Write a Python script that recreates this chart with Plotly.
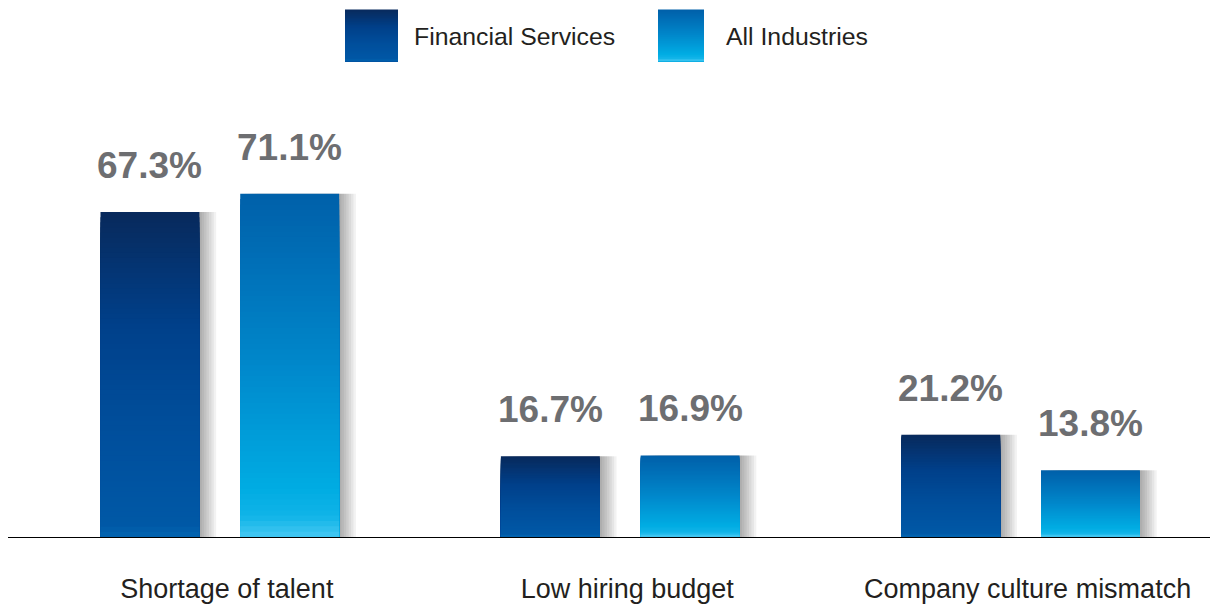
import plotly.graph_objects as go

# ---------------- data ----------------
categories = ["Shortage of talent", "Low hiring budget", "Company culture mismatch"]
financial_services = [67.3, 16.7, 21.2]
all_industries = [71.1, 16.9, 13.8]
series_names = ["Financial Services", "All Industries"]

# ---------------- styling ----------------
BODY = 8  # default page body margin
W, H = 1218 - BODY, 604 - BODY
ML, MR, MT, MB = 0, 0, 92, 65
X_RANGE = [-0.529, 2.493]
Y_MAX = (H - MT - MB) / 4.85
PLOT_W = W - ML - MR
PLOT_H = H - MT - MB
PX_PER_UNIT = PLOT_W / (X_RANGE[1] - X_RANGE[0])

BAR_W = 0.247
OFFSETS = [-0.298, 0.051]

FS_SCALE = [(0.0, "#0264b0"), (0.04, "#0058a6"), (0.35, "#004e9b"),
            (0.65, "#00408a"), (1.0, "#082a5c")]
AI_SCALE = [(0.0, "#45c8f2"), (0.06, "#10b4e8"), (0.14, "#00ace3"),
            (0.5, "#0088cb"), (0.8, "#006fb7"), (1.0, "#0060a9")]
SCALES = [FS_SCALE, AI_SCALE]
LABEL_COLOR = "#6d6e71"
TEXT_COLOR = "#231f20"
FONT = "Liberation Sans, Arial, sans-serif"
N_LAYERS = 64


def hex2rgb(h):
    h = h.lstrip("#")
    return tuple(int(h[i:i + 2], 16) for i in (0, 2, 4))


def sample(scale, t):
    for (t0, c0), (t1, c1) in zip(scale[:-1], scale[1:]):
        if t0 <= t <= t1:
            a = (t - t0) / (t1 - t0) if t1 > t0 else 0
            r0, g0, b0 = hex2rgb(c0)
            r1, g1, b1 = hex2rgb(c1)
            return "rgb(%d,%d,%d)" % (round(r0 + (r1 - r0) * a),
                                      round(g0 + (g1 - g0) * a),
                                      round(b0 + (b1 - b0) * a))
    return scale[-1][1]


fig = go.Figure()
series_values = [financial_services, all_industries]

# soft shadows
for s, vals in enumerate(series_values):
    for k in range(1, 8):
        fig.add_trace(go.Bar(
            x=categories, y=vals, width=BAR_W,
            offset=OFFSETS[s] + k * 2.4 / PX_PER_UNIT,
            marker=dict(color="rgba(0,0,0,0.05)", line=dict(width=0)),
            showlegend=False, hoverinfo="skip"))

# gradient bars (layers drawn tallest first)
for s, vals in enumerate(series_values):
    for j in range(N_LAYERS):
        frac = (N_LAYERS - j) / N_LAYERS
        fig.add_trace(go.Bar(
            x=categories, y=[v * frac for v in vals], width=BAR_W,
            offset=OFFSETS[s],
            marker=dict(color=sample(SCALES[s], (N_LAYERS - j - 0.5) / N_LAYERS),
                        line=dict(width=0)),
            name=series_names[s], showlegend=False,
            hoverinfo="skip" if j else "y+name"))

annotations = []
# value labels
for s, vals in enumerate(series_values):
    for i, v in enumerate(vals):
        annotations.append(dict(
            x=i + OFFSETS[s] + BAR_W / 2, y=v, xref="x", yref="y",
            text=f"{v:.1f}%", showarrow=False, yanchor="bottom", xanchor="center",
            yshift=24,
            font=dict(family=FONT, size=37, color=LABEL_COLOR, weight="bold")))


def px_x(px):  # page pixel -> paper
    return (px - BODY - ML) / PLOT_W


def px_y(py):
    return (H - MB - (py - BODY)) / PLOT_H


# custom legend (gradient swatches built from overlapping strips)
shapes = []
legend_items = [(345, 398, 412), (658, 704, 724)]
SW_TOP, SW_BOT = 9, 61
N_STRIPS = 26
for s, (x0, x1, tx) in enumerate(legend_items):
    h = (SW_BOT - SW_TOP) / N_STRIPS
    for k in range(N_STRIPS):
        top = SW_TOP + k * h
        t = 1 - (k + 0.5) / N_STRIPS
        shapes.append(dict(
            type="rect", xref="paper", yref="paper",
            x0=px_x(x0), x1=px_x(x1), y0=px_y(SW_BOT), y1=px_y(top),
            fillcolor=sample(SCALES[s], t), line=dict(width=0), layer="above"))
    annotations.append(dict(
        x=px_x(tx), y=px_y(36), xref="paper", yref="paper", text=series_names[s],
        showarrow=False, xanchor="left", yanchor="middle",
        font=dict(family=FONT, size=24.8, color=TEXT_COLOR)))

fig.update_layout(
    width=W, height=H, barmode="overlay",
    margin=dict(l=ML, r=MR, t=MT, b=MB),
    paper_bgcolor="white", plot_bgcolor="white",
    showlegend=False, shapes=shapes, annotations=annotations,
    xaxis=dict(type="category", range=X_RANGE, showgrid=False, zeroline=False,
               showline=True, linecolor="black", linewidth=1.3,
               ticks="outside", ticklen=27, tickcolor="rgba(0,0,0,0)",
               ticklabelshift=7,
               tickfont=dict(family=FONT, size=27, color=TEXT_COLOR)),
    yaxis=dict(range=[0, Y_MAX], visible=False, showgrid=False, zeroline=False),
)

fig.write_html("out.html")
